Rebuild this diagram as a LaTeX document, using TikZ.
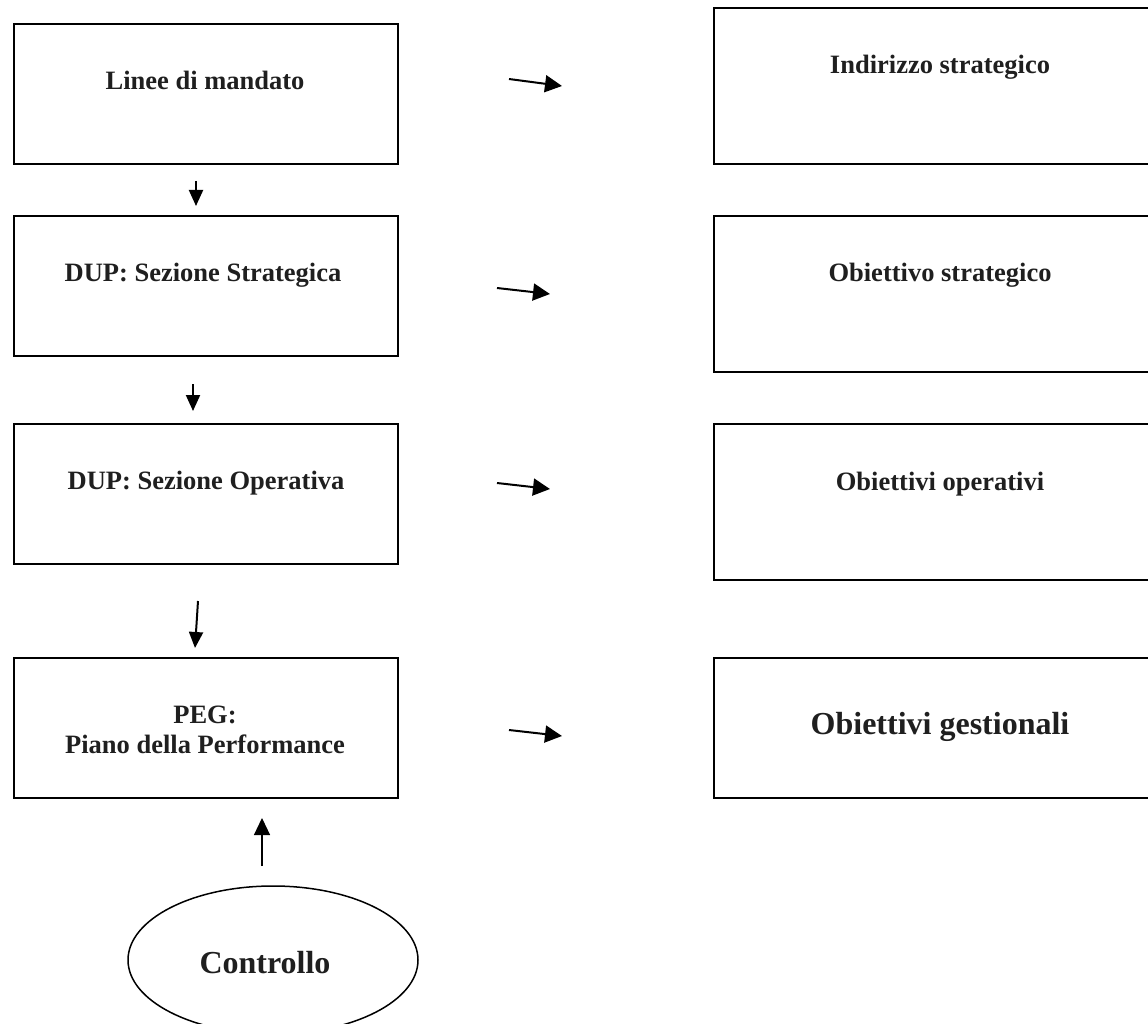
\documentclass[tikz,border=0pt]{standalone}
\usepackage{fontspec}
\setmainfont{Liberation Serif}
\usetikzlibrary{shapes.geometric,arrows.meta}
\begin{document}
\begin{tikzpicture}[x=1pt,y=-1pt,
  box/.style={draw=black,line width=2pt,rectangle,inner sep=0pt,anchor=north west},
  lbl/.style={font=\fontsize{26.5}{30}\selectfont\bfseries,text=black!88,anchor=base,inner sep=0pt},
  biglbl/.style={font=\fontsize{32}{36}\selectfont\bfseries,text=black!88,anchor=base,inner sep=0pt},
  harr/.style={line width=2pt,-{Triangle[length=17pt,width=17pt]}},
  varr/.style={line width=2pt,-{Triangle[length=16pt,width=14pt]}},
  uarr/.style={line width=1.2pt,-{Triangle[length=17pt,width=16pt]}}]
\useasboundingbox (0,0) rectangle (1148,1024);
\clip (0,0) rectangle (1148,1024);
\fill[white] (0,0) rectangle (1148,1024);
% left boxes
\node[box,minimum width=384pt,minimum height=140pt] (L1) at (13,23) {};
\node[box,minimum width=384pt,minimum height=140pt] (L2) at (13,215) {};
\node[box,minimum width=384pt,minimum height=140pt] (L3) at (13,423) {};
\node[box,minimum width=384pt,minimum height=140pt] (L4) at (13,657) {};
% right boxes
\node[box,minimum width=460pt,minimum height=156pt] (R1) at (713,7) {};
\node[box,minimum width=460pt,minimum height=156pt] (R2) at (713,215) {};
\node[box,minimum width=460pt,minimum height=156pt] (R3) at (713,423) {};
\node[box,minimum width=460pt,minimum height=140pt] (R4) at (713,657) {};
% texts
\node[lbl] (tL1) at (205,90) {Linee di mandato};
\node[lbl] (tL2) at (203,282) {DUP: Sezione Strategica};
\node[lbl] (tL3) at (206,489) {DUP: Sezione Operativa};
\node[lbl] (tL4a) at (205,723) {PEG:};
\node[lbl] (tL4b) at (205,753) {Piano della Performance};
\node[lbl] (tR1) at (940,74) {Indirizzo strategico};
\node[lbl] (tR2) at (940,282) {Obiettivo strategico};
\node[lbl] (tR3) at (940,490) {Obiettivi operativi};
\node[biglbl] (tR4) at (940,734) {Obiettivi gestionali};
% ellipse
\node[draw=black,line width=1.5pt,ellipse,minimum width=290pt,minimum height=148pt,inner sep=0pt] (C) at (273,960) {};
\node[biglbl] (tC) at (265,973) {Controllo};
% arrow endpoints
\coordinate (h1a) at (509,79); \coordinate (h1b) at (562,86);
\coordinate (h2a) at (497,288); \coordinate (h2b) at (550,294);
\coordinate (h3a) at (497,483); \coordinate (h3b) at (550,489);
\coordinate (h4a) at (509,730); \coordinate (h4b) at (562,736);
\coordinate (d1a) at (196,181); \coordinate (d1b) at (196,206);
\coordinate (d2a) at (193,384); \coordinate (d2b) at (193,411);
\coordinate (d3a) at (198,601); \coordinate (d3b) at (195,648);
\coordinate (ua) at (262,866); \coordinate (ub) at (262,818);
\draw[harr] (h1a) -- (h1b);
\draw[harr] (h2a) -- (h2b);
\draw[harr] (h3a) -- (h3b);
\draw[harr] (h4a) -- (h4b);
\draw[varr] (d1a) -- (d1b);
\draw[varr] (d2a) -- (d2b);
\draw[varr] (d3a) -- (d3b);
\draw[uarr] (ua) -- (ub);
\end{tikzpicture}
\end{document}
